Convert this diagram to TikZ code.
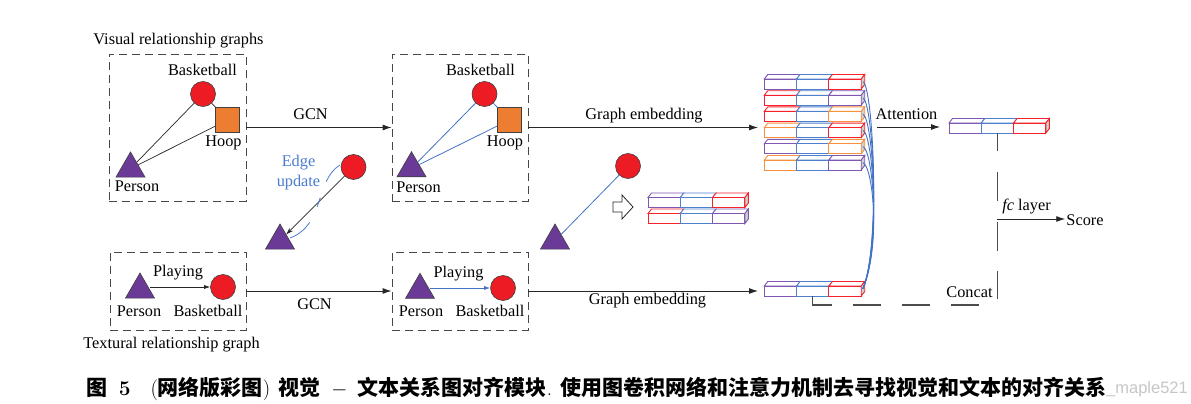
\documentclass[tikz,border=0pt]{standalone}
\usepackage{fontspec}
\newfontfamily\tnr{Liberation Serif}
\newfontfamily\cjk{Noto Sans CJK SC}
\newfontfamily\wmfont{Liberation Sans}
\usetikzlibrary{arrows.meta,shapes.geometric}
\definecolor{cred}{HTML}{ED1C24}
\definecolor{corange}{HTML}{ED7D31}
\definecolor{cpurple}{HTML}{6B3A97}
\definecolor{cblue}{HTML}{4472C4}
\definecolor{bpur}{HTML}{7E57B2}
\definecolor{bblue}{HTML}{4F80CC}
\definecolor{bred}{HTML}{F5222B}
\definecolor{bora}{HTML}{F7913D}
\definecolor{tblue}{HTML}{4A7CCF}

\newcommand{\featbar}[6]{%
  \foreach \barcol [count=\barix from 0] in {#4,#5,#6}{%
    \pgfmathsetmacro{\barxx}{#2+\barix*32.3}%
    \draw[draw=\barcol, fill=white, line width=0.9pt] (\barxx,#3) -- ++(3.5,-4.5) -- ++(32.3,0) -- ++(-3.5,4.5) -- cycle;
    \draw[draw=\barcol, fill=white, line width=0.9pt] (\barxx,#3) rectangle ++(32.3,10);
  }
  \draw[draw=#6, fill=black!18, line width=0.9pt] (#2+96.9,#3) -- ++(3.5,-4.5) -- ++(0,10) -- ++(-3.5,4.5) -- cycle;
  \coordinate (#1-e) at (#2+98.6,#3+2.8);
  \coordinate (#1-s) at (#2+48.4,#3+10);
  \coordinate (#1-w) at (#2,#3+5);
}

\begin{document}
\begin{tikzpicture}[x=1pt,y=-1pt,
  lbl/.style={font=\tnr\fontsize{16.3}{19}\selectfont, inner sep=0pt, anchor=base},
  dbox/.style={draw=black!72, dash pattern=on 8pt off 5pt, line width=0.9pt, inner sep=0pt},
  tri/.style={regular polygon, regular polygon sides=3, minimum size=33.5pt, inner sep=0pt, fill=cpurple, draw=black!75, line width=0.6pt},
  ball/.style={circle, minimum size=25pt, inner sep=0pt, fill=cred, draw=black!75, line width=0.6pt},
  hoop/.style={rectangle, minimum size=24.5pt, inner sep=0pt, fill=corange, draw=black!75, line width=0.6pt},
  arr/.style={draw=black!85, line width=0.9pt, -{Latex[length=9pt,width=6pt]}},
  rel/.style={draw=black!85, line width=0.7pt},
  brel/.style={draw=cblue, line width=0.8pt},
  attc/.style={draw=cblue, line width=0.9pt},
  gdash/.style={draw=black!70, line width=1.1pt}
]
\fill[white] (0,0) rectangle (1191,404);
\useasboundingbox (0,0) rectangle (1191,404);

% dashed boxes
\node[dbox, minimum width=137pt, minimum height=147pt] (boxA) at (177.5,127.5) {};
\node[dbox, minimum width=136pt, minimum height=78pt] (boxB) at (178,291) {};
\node[dbox, minimum width=136pt, minimum height=147pt] (boxC) at (460,127.5) {};
\node[dbox, minimum width=136pt, minimum height=78pt] (boxD) at (460,291) {};

\node[lbl] (tvis) at (178.5,45) {Visual relationship graphs};
\node[lbl] (ttex) at (171.5,348) {Textural relationship graph};

% box A
\node[ball] (ca) at (203,94) {};
\node[hoop] (sa) at (227.5,120) {};
\node[tri] (ta) at (130.5,168.7) {};
\draw[rel] (ta) -- (ca);
\draw[rel] (ta) -- (sa);
\draw[rel] (ca) -- (sa);
\node[lbl] (la1) at (202.5,76) {Basketball};
\node[lbl] (la2) at (223.5,146) {Hoop};
\node[lbl] (la3) at (137,191) {Person};

% box C
\node[ball] (cc) at (484.5,94) {};
\node[hoop] (sc) at (509.5,120) {};
\node[tri] (tc) at (411.5,168.4) {};
\draw[brel] (tc) -- (cc);
\draw[brel] (tc) -- (sc);
\draw[brel] (cc) -- (sc);
\node[lbl] (lc1) at (480.5,75) {Basketball};
\node[lbl] (lc2) at (505,146) {Hoop};
\node[lbl] (lc3) at (418.5,192) {Person};

% box B
\node[tri] (tb) at (140,289.7) {};
\node[ball] (cb) at (223,287) {};
\draw[rel, -{Latex[length=6pt,width=4pt]}] (tb.east |- cb) -- (cb);
\node[lbl] (lb1) at (178,276) {Playing};
\node[lbl] (lb2) at (139,316) {Person};
\node[lbl] (lb3) at (208,316) {Basketball};

% box D
\node[tri] (td) at (420,290) {};
\node[ball] (cd) at (503,288) {};
\draw[brel, -{Latex[length=6pt,width=4pt]}] (td.east |- cd) -- (cd);
\node[lbl] (ld1) at (458.5,277) {Playing};
\node[lbl] (ld2) at (421,316) {Person};
\node[lbl] (ld3) at (490,316) {Basketball};

% GCN arrows
\draw[arr] (boxA.east) -- (boxC.west);
\node[lbl] (gcn1) at (310.5,119) {GCN};
\draw[arr] (boxB.east) -- (boxD.west);
\node[lbl] (gcn2) at (314.5,309) {GCN};

% edge update
\node[ball] (cu) at (353.5,167) {};
\node[tri] (tu) at (280,240.7) {};
\draw[rel, -{Stealth[length=7pt,width=4.5pt]}] (cu) -- (tu);
\draw[draw=tblue, line width=0.8pt, dash pattern=on 22pt off 17pt on 10pt off 17pt on 30pt] (340,165) .. controls (315,180) and (325,225) .. (290,238);
\node[lbl, text=tblue] (eu1) at (298.5,166) {Edge};
\node[lbl, text=tblue] (eu2) at (298.5,186) {update};

% middle pair
\node[ball] (cm) at (628,166) {};
\node[tri] (tm) at (555,240.7) {};
\draw[brel] (cm) -- (tm);
\draw[draw=black!85, fill=white, line width=0.8pt] (613,202) -- (622,202) -- (622,195) -- (633,207) -- (622,219) -- (622,212) -- (613,212) -- cycle;
\featbar{m1}{648}{197.5}{bpur}{bblue}{bred}
\featbar{m2}{648}{213.5}{bred}{bblue}{bpur}

% graph embedding arrows
\coordinate (ge1) at (758,127.5);
\coordinate (ge2) at (758,291);
\draw[arr] (boxC.east) -- (ge1);
\node[lbl] (gel1) at (644,119) {Graph embedding};
\draw[arr] (boxD.east) -- (ge2);
\node[lbl] (gel2) at (647.5,304) {Graph embedding};

% feature stack
\featbar{r1}{764.3}{79}{bpur}{bblue}{bred}
\featbar{r2}{764.3}{95.2}{bred}{bblue}{bpur}
\featbar{r3}{764.3}{111.4}{bred}{bblue}{bora}
\featbar{r4}{764.3}{127.6}{bora}{bblue}{bred}
\featbar{r5}{764.3}{143.8}{bpur}{bblue}{bora}
\featbar{r6}{764.3}{160}{bora}{bblue}{bpur}
\featbar{bb}{764.3}{286}{bpur}{bblue}{bred}

\foreach \r in {1,...,6}{
  \draw[attc] (r\r-e) .. controls +(10,3) and (881,245) .. (bb-e);
}

% attention
\coordinate (at1) at (877,127);
\coordinate (at2) at (940,127);
\draw[arr] (at1) -- (at2);
\node[lbl] (attl) at (906.5,119) {Attention};
\featbar{ab}{949}{123}{bpur}{bblue}{bred}

% concat and fc
\coordinate (vd) at (997.4,300);
\draw[gdash, dash pattern=on 18pt off 21pt on 29pt off 21pt on 29pt off 20pt on 28pt] (ab-s) -- (vd);
\coordinate (cend) at (980,305);
\draw[gdash, dash pattern=on 28pt off 21pt] (bb-s) |- (cend);
\node[lbl] (concat) at (969.5,297) {Concat};
\node[lbl] (score) at (1085,225) {Score};
\coordinate (fc0) at (997.4,219);
\draw[arr, shorten >=1pt] (fc0) -- (fc0 -| score.west);
\node[lbl] (fcl) at (1026.5,210) {{\itshape fc} layer};

% caption
\node[anchor=base west, inner sep=0pt, font=\fontsize{21}{24}\selectfont] (cap) at (86,395)
 {{\cjk\bfseries 图}\hspace{0.55em}\textbf{5}\hspace{0.95em}({\cjk\bfseries 网络版彩图})\hspace{0.4em}{\cjk\bfseries 视觉}\hspace{0.5em}$-$\hspace{0.5em}{\cjk\bfseries 文本关系图对齐模块}.\hspace{0.4em}{\cjk\bfseries 使用图卷积网络和注意力机制去寻找视觉和文本的对齐关系}};
\node[anchor=base east, inner sep=0pt, font=\wmfont\fontsize{16.5}{20}\selectfont, text=black!22] (wm) at (1188,393) {\_maple521};
\end{tikzpicture}
\end{document}
